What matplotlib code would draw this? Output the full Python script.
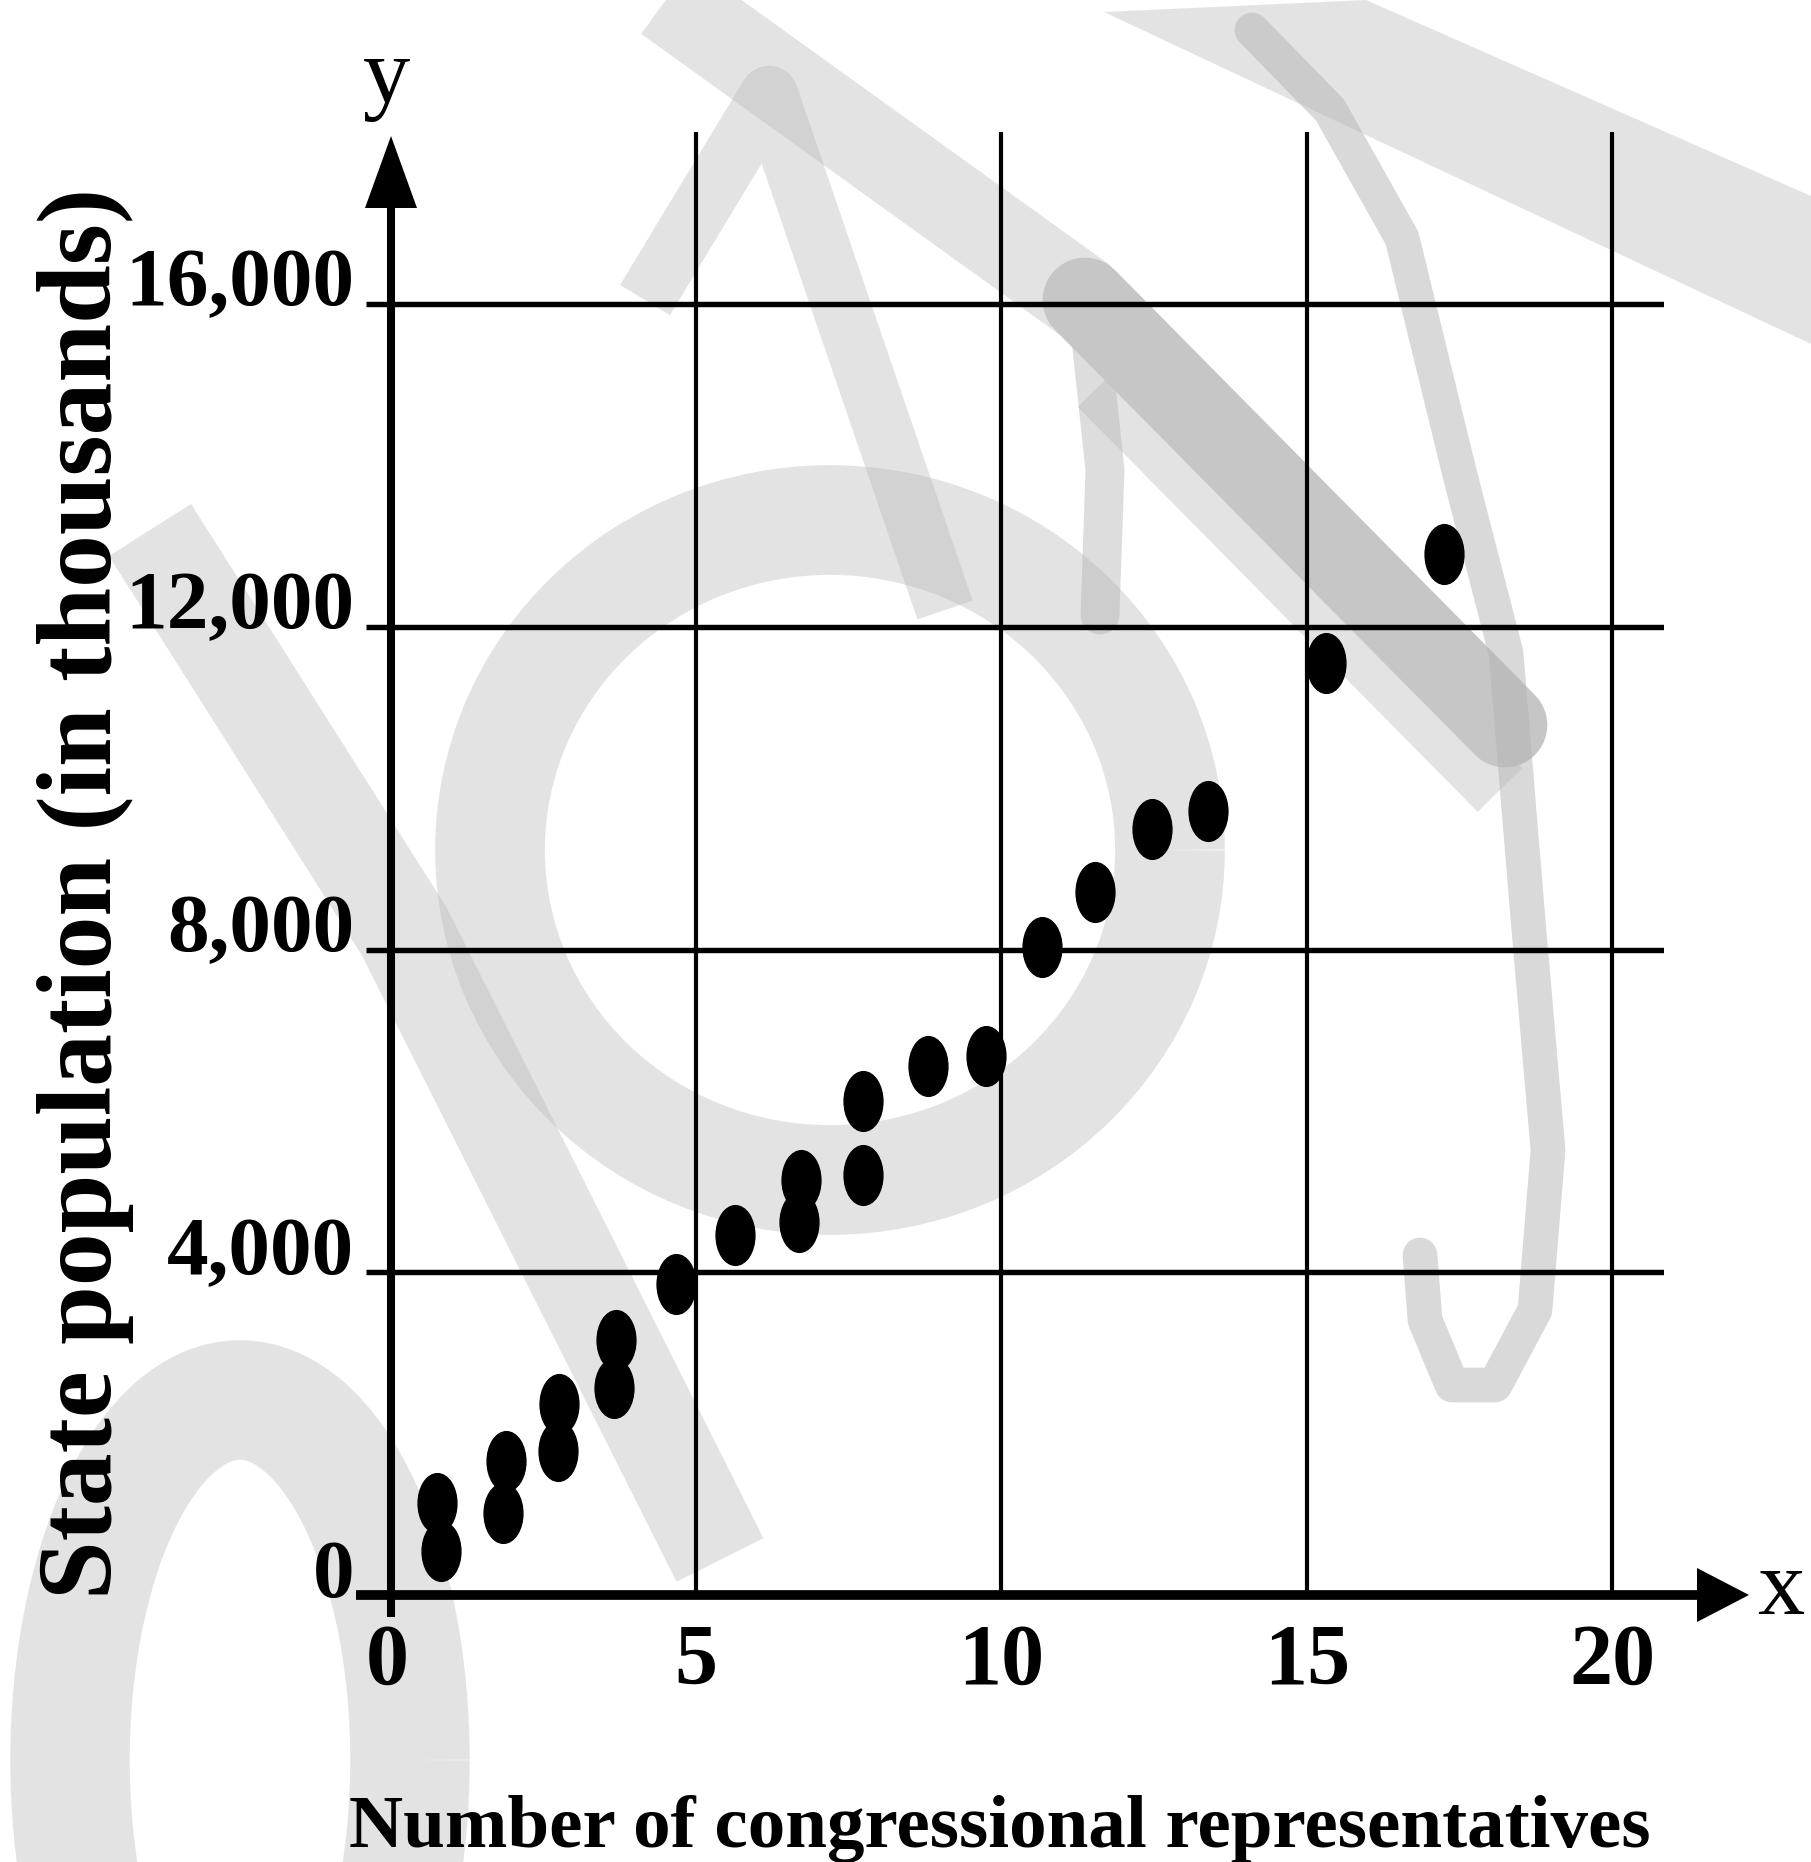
import matplotlib
matplotlib.use("Agg")
import matplotlib.pyplot as plt
from matplotlib.path import Path
from matplotlib.transforms import Affine2D
from matplotlib.patches import Arc, Polygon

# ---------------- data ----------------
representatives = [0.76, 0.82, 1.83, 1.88, 2.73, 2.76, 3.65, 3.68, 4.67, 5.64,
                   6.68, 6.72, 7.73, 7.73, 8.79, 9.75, 10.67, 11.53, 12.46,
                   13.38, 15.32, 17.24]
population = [1145, 541, 1019, 1660, 1786, 2365, 2566, 3157, 3849, 4459,
              4628, 5148, 5208, 6127, 6550, 6683, 8025, 8710, 9495,
              9720, 11551, 12897]
x_ticks = [0, 5, 10, 15, 20]
x_tick_labels = ["0", "5", "10", "15", "20"]
y_ticks = [0, 4000, 8000, 12000, 16000]
y_tick_labels = ["0", "4,000", "8,000", "12,000", "16,000"]
x_title = "Number of congressional representatives"
y_title = "State population (in thousands)"

# ---------------- figure geometry ----------------
W, H = 1811, 1862
fig = plt.figure(figsize=(W / 100, H / 100), dpi=100, facecolor="white")

SERIF = ["Liberation Serif", "DejaVu Serif"]

# ---------------- watermark layer (decoration, pixel coordinates) ----------------
wm = fig.add_axes([0, 0, 1, 1], zorder=-5)
wm.set_xlim(0, W)
wm.set_ylim(H, 0)
wm.axis("off")
WG = "#b4b4b4"   # translucent grey: overlaps get darker, like the scan
WA = 0.36
wm.add_patch(Polygon([(1104, 12), (1366, 0), (1811, 196), (1811, 344)],
                     closed=True, color=WG, alpha=WA, lw=0))
wm.plot([640, 1085], [-20, 300], color=WG, alpha=WA, lw=62, solid_capstyle="butt")
wm.plot([645, 769, 945], [300, 95, 610], color=WG, alpha=WA, lw=42,
        solid_capstyle="butt", solid_joinstyle="round")
wm.add_patch(Arc((830, 850), 680, 660, theta1=0, theta2=360,
                 color=WG, alpha=WA, lw=79))
wm.add_patch(Arc((240, 1760), 340, 720, theta1=0, theta2=360,
                 color=WG, alpha=WA, lw=86))
wm.plot([150, 404, 720], [530, 931, 1560], color=WG, alpha=WA, lw=70,
        solid_capstyle="butt")
wm.plot([1090, 1105, 1100], [330, 470, 615], color=WG, alpha=0.45, lw=28,
        solid_capstyle="round")
wm.plot([1100, 1500], [385, 790], color=WG, alpha=WA, lw=45,
        solid_capstyle="butt")
wm.plot([1085, 1505], [300, 725], color="#c6c6c6", lw=61,
        solid_capstyle="round")
wm.plot([1252, 1330, 1402, 1460, 1506, 1529, 1548, 1535, 1495, 1452, 1425, 1420],
        [30, 110, 238, 475, 653, 931, 1150, 1310, 1385, 1385, 1320, 1255],
        color=WG, alpha=0.5, lw=25, solid_capstyle="round", solid_joinstyle="round")

# ---------------- main axes ----------------
# x 0 -> 391 px, 20 -> 1612 px ; y 0 -> 1595 px, 16000 -> 304 px
px_per_x = (1612 - 391) / 20.0
px_per_y = (1595 - 304) / 16000.0
left_px, right_px, bottom_px, top_px = 391, 1664, 1595, 132
ax = fig.add_axes([left_px / W, (H - bottom_px) / H,
                   (right_px - left_px) / W, (bottom_px - top_px) / H])
xmax = (right_px - left_px) / px_per_x
ymax = (bottom_px - top_px) / px_per_y
ax.set_xlim(0, xmax)
ax.set_ylim(0, ymax)
ax.set_facecolor("none")
for s in ax.spines.values():
    s.set_visible(False)
ax.set_xticks([])
ax.set_yticks([])

def dx(px):
    return px / px_per_x

def dy(px):
    return px / px_per_y

# grid lines
ax.hlines(y_ticks[1:], 0, xmax, color="black", lw=3.9, zorder=2)
ax.vlines(x_ticks[1:], 0, ymax, color="black", lw=3.0, zorder=2)

# y tick marks (outward)
ax.hlines(y_ticks[1:], -dx(25), 0, color="black", lw=3.9, zorder=3, clip_on=False)

# x axis with arrow
x_left, x_base, x_tip = -dx(35), dx(1697 - 391), dx(1749 - 391)
ax.plot([x_left, x_base + dx(2)], [0, 0], color="black", lw=7.0,
        solid_capstyle="butt", zorder=4, clip_on=False)
ax.fill([x_base, x_tip, x_base], [dy(27), 0, -dy(27)], color="black",
        lw=0, zorder=4, clip_on=False)

# y axis with arrow
y_bottom, y_base, y_tip = -dy(22), dy(1595 - 208), dy(1595 - 136)
ax.plot([0, 0], [y_bottom, y_base + dy(2)], color="black", lw=5.8,
        solid_capstyle="butt", zorder=4, clip_on=False)
ax.fill([-dx(26), 0, dx(26)], [y_base, y_tip, y_base], color="black",
        lw=0, zorder=4, clip_on=False)

# elliptical dot marker (taller than wide, as in the picture)
ellipse = Path.unit_circle().transformed(Affine2D().scale(0.65, 1.0))
ax.plot(representatives, population, linestyle="none", marker=ellipse,
        markersize=43, color="black", zorder=5, clip_on=False)

# tick labels
for v, lab in zip(y_ticks, y_tick_labels):
    ax.text(-dx(37), v + dy(18), lab, ha="right", va="center", fontsize=60,
            fontweight="bold", family=SERIF, clip_on=False)
for v, lab in zip(x_ticks, x_tick_labels):
    ax.text(v - (dx(4) if v == 0 else 0), -dy(1663 - 1595), lab, ha="center",
            va="center", fontsize=62, fontweight="bold", family=SERIF)

# axis letters
ax.text(dx(-4), dy(1595 - 80), "y", ha="center", va="center", fontsize=68,
        family=SERIF, clip_on=False)
ax.text(dx(1781 - 391), dy(1595 - 1591), "x", ha="center", va="center",
        fontsize=68, family=SERIF, clip_on=False)

# axis titles
ax.text(dx(1000 - 391), -dy(1847 - 1595), x_title, ha="center",
        va="baseline", fontsize=54, fontweight="bold", family=SERIF)
ax.text(-dx(391 - 86), dy(1595 - 893), y_title, ha="center", va="center",
        rotation=90, fontsize=76, fontweight="bold", family=SERIF)

fig.savefig("out.png", dpi=100, facecolor="white")
